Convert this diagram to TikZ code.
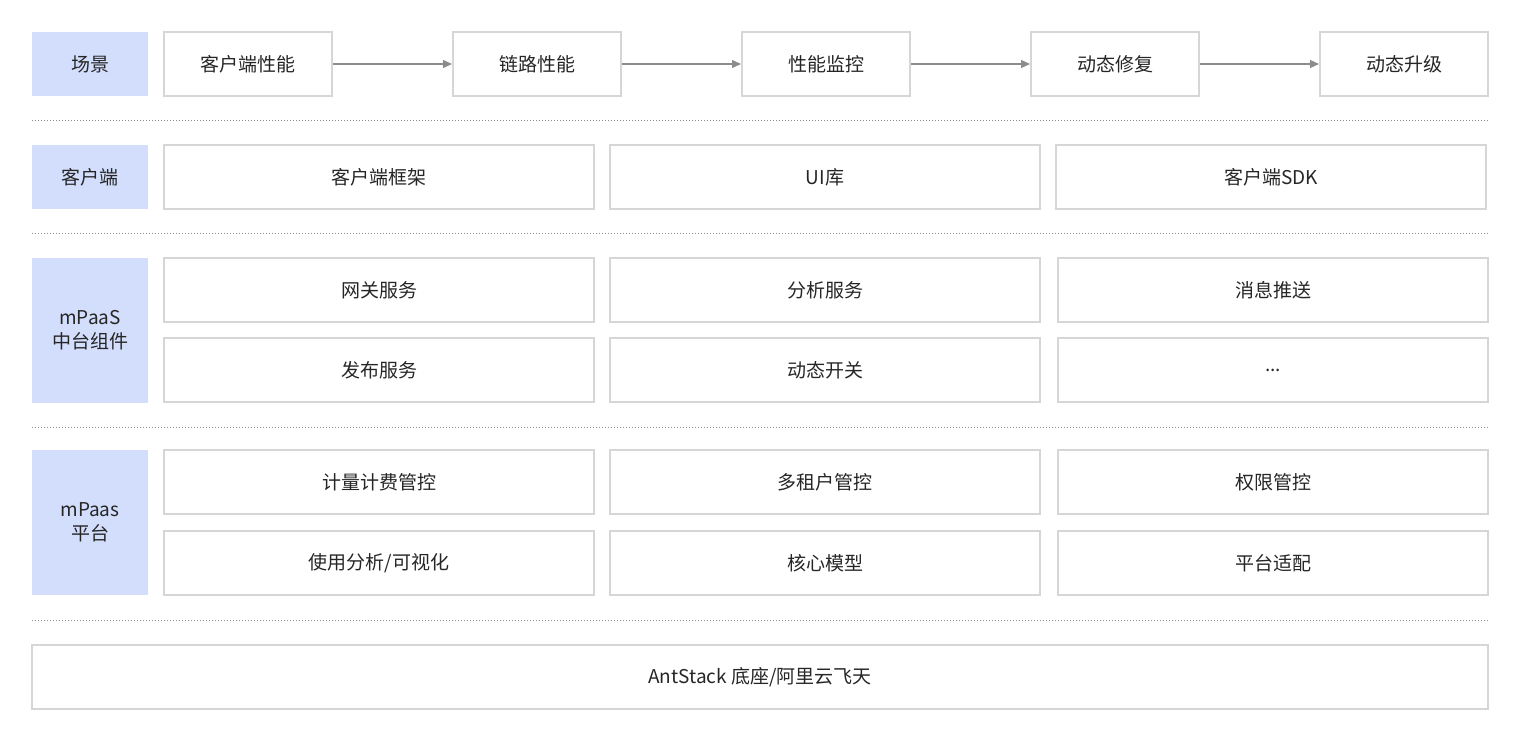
\documentclass[tikz,border=0pt]{standalone}
\usepackage{fontspec}
\setmainfont{Noto Sans CJK SC}
\usetikzlibrary{arrows.meta}
\definecolor{lab}{HTML}{D3DEFC}
\definecolor{bd}{HTML}{D6D6D6}
\definecolor{tx}{HTML}{262626}
\definecolor{ar}{HTML}{8C8C8C}
\begin{document}
\begin{tikzpicture}[x=1pt,y=-1pt,
  lbl/.style={fill=lab,draw=none,text=tx,font=\fontsize{19}{24}\selectfont,align=center},
  bx/.style={draw=bd,line width=1.2pt,fill=white,text=tx,font=\fontsize{19}{24}\selectfont},
  dl/.style={draw=ar,line width=1pt,dotted},
  arr/.style={draw=ar,line width=1.2pt,-{Triangle[length=9pt,width=8pt]}}]
\path[use as bounding box,fill=white] (0,0) rectangle (1520,738);
\newcommand\rb[6]{\path[#1] (#2,#3) rectangle (#4,#5) node[midway] (#6) {};}
\newcommand\mybox[7]{\draw[#1] (#2,#3) rectangle (#4,#5); \node[#1,draw=none,fill=none] (#6) at ({(#2+#4)/2},{(#3+#5)/2}) {#7};}
% row 1
\mybox{lbl}{32}{32}{148}{96}{l1}{场景}
\mybox{bx}{164}{32}{332}{96}{a1}{客户端性能}
\mybox{bx}{453}{32}{621}{96}{a2}{链路性能}
\mybox{bx}{742}{32}{910}{96}{a3}{性能监控}
\mybox{bx}{1031}{32}{1199}{96}{a4}{动态修复}
\mybox{bx}{1320}{32}{1488}{96}{a5}{动态升级}
\coordinate (s1) at (333,64);\coordinate (e1) at (452,64);
\coordinate (s2) at (622,64);\coordinate (e2) at (741,64);
\coordinate (s3) at (911,64);\coordinate (e3) at (1030,64);
\coordinate (s4) at (1200,64);\coordinate (e4) at (1319,64);
\foreach \i in {1,...,4}{\draw[arr] (s\i) -- (e\i);}
\coordinate (d1a) at (32,121);\coordinate (d1b) at (1488,121);
\draw[dl] (d1a) -- (d1b);
% row 2
\mybox{lbl}{32}{145}{148}{209}{l2}{客户端}
\mybox{bx}{164}{145}{594}{209}{b1}{客户端框架}
\mybox{bx}{610}{145}{1040}{209}{b2}{UI库}
\mybox{bx}{1056}{145}{1486}{209}{b3}{客户端SDK}
\coordinate (d2a) at (32,233);\coordinate (d2b) at (1488,233);
\draw[dl] (d2a) -- (d2b);
% row 3
\mybox{lbl}{32}{258}{148}{403}{l3}{mPaaS\\中台组件}
\mybox{bx}{164}{258}{594}{322}{c1}{网关服务}
\mybox{bx}{610}{258}{1040}{322}{c2}{分析服务}
\mybox{bx}{1058}{258}{1488}{322}{c3}{消息推送}
\mybox{bx}{164}{338}{594}{402}{c4}{发布服务}
\mybox{bx}{610}{338}{1040}{402}{c5}{动态开关}
\mybox{bx}{1058}{338}{1488}{402}{c6}{...}
\coordinate (d3a) at (32,427);\coordinate (d3b) at (1488,427);
\draw[dl] (d3a) -- (d3b);
% row 4
\mybox{lbl}{32}{450}{148}{595}{l4}{mPaas\\平台}
\mybox{bx}{164}{450}{594}{514}{e1x}{计量计费管控}
\mybox{bx}{610}{450}{1040}{514}{e2x}{多租户管控}
\mybox{bx}{1058}{450}{1488}{514}{e3x}{权限管控}
\mybox{bx}{164}{531}{594}{595}{e4x}{使用分析/可视化}
\mybox{bx}{610}{531}{1040}{595}{e5x}{核心模型}
\mybox{bx}{1058}{531}{1488}{595}{e6x}{平台适配}
\coordinate (d4a) at (32,620);\coordinate (d4b) at (1488,620);
\draw[dl] (d4a) -- (d4b);
% bottom
\mybox{bx}{32}{645}{1488}{709}{f1}{AntStack 底座/阿里云飞天}
\end{tikzpicture}
\end{document}
